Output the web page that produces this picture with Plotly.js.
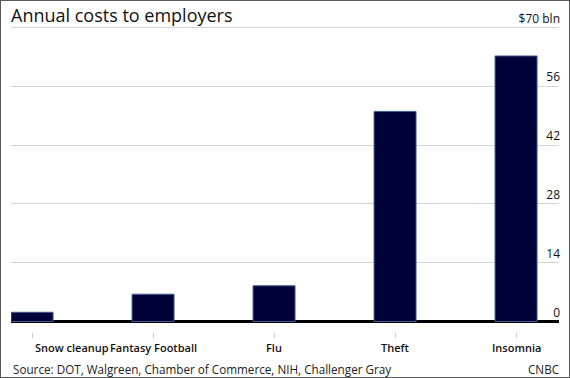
<!DOCTYPE html>
<html>
<head>
<meta charset="utf-8">
<script src="https://cdn.plot.ly/plotly-3.0.1.min.js"></script>
<style>
  html, body { margin: 0; padding: 0; background: #fff; }
  #wrap { position: relative; width: 570px; height: 378px; }
  #chart { width: 570px; height: 378px; }
  #frame { position: absolute; left: 0; top: 0; width: 570px; height: 378px; box-sizing: border-box; border: 1px solid #5a5a5a; pointer-events: none; }
</style>
</head>
<body>
<div id="wrap"><div id="chart"></div><div id="frame"></div></div>
<script>
const categories = ["Snow cleanup", "Fantasy Football", "Flu", "Theft", "Insomnia"];
const costs = [2.2, 6.5, 8.5, 50, 63.2];
const yTickValues = [0, 14, 28, 42, 56, 70];
const yTickLabels = ["0", "14", "28", "42", "56", "$70 bln"];
const titleText = "Annual costs to employers";
const sourceText = "Source: DOT, Walgreen, Chamber of Commerce, NIH, Challenger Gray";
const creditText = "CNBC";

const FONT = "Open Sans, sans-serif";

const trace = {
  type: "bar",
  x: categories,
  y: costs,
  width: 0.347,
  marker: { color: "#000038", line: { color: "#3d5d90", width: 1 } },
  hoverinfo: "x+y"
};

const labelAnns = categories.map((c, i) => ({
  x: c, xref: "x", y: 0, yref: "paper",
  xanchor: i === 0 ? "left" : "center", yanchor: "middle",
  xshift: i === 0 ? 1 : 0, yshift: -15,
  text: c, showarrow: false,
  font: { family: FONT, size: 11, color: "#111", weight: 600 }
}));

const layout = {
  width: 570, height: 378,
  margin: { l: 11, r: 11, t: 19.1, b: 46 },
  paper_bgcolor: "#fff", plot_bgcolor: "#fff",
  showlegend: false,
  bargap: 0,
  title: {
    text: titleText, xref: "container", x: 11 / 570, xanchor: "left",
    yref: "container", y: 1 - 16 / 378, yanchor: "middle",
    font: { family: FONT, size: 18, color: "#111" }
  },
  xaxis: {
    type: "category",
    range: [-0.174, 4.355],
    showgrid: false, zeroline: false, showline: false,
    ticks: "outside", ticklen: 5, tickcolor: "#cccccc", tickwidth: 1,
    showticklabels: false, fixedrange: true
  },
  yaxis: {
    range: [-2.5, 72],
    side: "right",
    tickvals: yTickValues, ticktext: yTickLabels,
    ticklabelposition: "inside",
    ticklabeloverflow: "allow",
    ticklabelshift: -9,
    ticklabelstandoff: -4,
    ticks: "",
    showgrid: true, gridcolor: "#d4d4d4", gridwidth: 1,
    zeroline: true, zerolinecolor: "#000", zerolinewidth: 2.5,
    showline: false,
    tickfont: { family: FONT, size: 12, color: "#111" },
    fixedrange: true
  },
  annotations: labelAnns.concat([
    { x: 0, xref: "paper", y: 0, yref: "paper", xanchor: "left", yanchor: "middle",
      yshift: -37, text: sourceText, showarrow: false,
      font: { family: FONT, size: 11.7, color: "#222" } },
    { x: 1, xref: "paper", y: 0, yref: "paper", xanchor: "right", yanchor: "middle",
      xshift: 2, yshift: -37, text: creditText, showarrow: false,
      font: { family: FONT, size: 11.7, color: "#222" } }
  ])
};

Plotly.newPlot("chart", [trace], layout, { displayModeBar: false, staticPlot: true });
</script>
</body>
</html>
